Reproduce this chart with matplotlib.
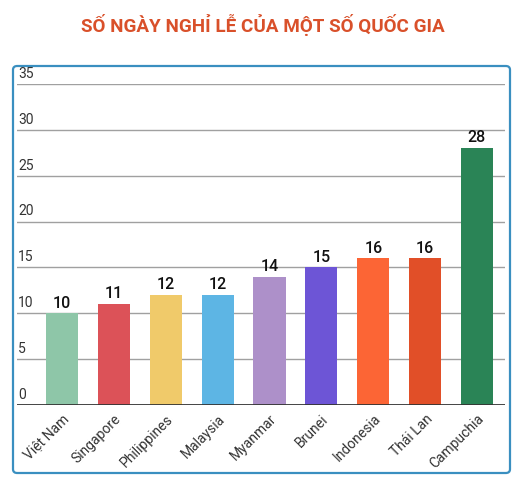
import matplotlib
matplotlib.use("Agg")
import matplotlib.pyplot as plt
from matplotlib.patches import FancyBboxPatch

plt.rcParams['font.family'] = ['Roboto', 'DejaVu Sans']

# du lieu
countries = ['Việt Nam', 'Singapore', 'Philippines', 'Malaysia', 'Myanmar',
             'Brunei', 'Indonesia', 'Thái Lan', 'Campuchia']
holidays = [10, 11, 12, 12, 14, 15, 16, 16, 28]
bar_colors = ['#8ec6a8', '#dc5258', '#f0ca6a', '#5db5e4', '#ad90c9',
              '#6d55d6', '#fc6535', '#e14f28', '#2a8456']
y_ticks = [0, 5, 10, 15, 20, 25, 30, 35]

W, H = 525, 483
fig = plt.figure(figsize=(W / 100, H / 100), dpi=100)

# khung bo tron
box = FancyBboxPatch((13 / W, 1 - 473 / H), (510 - 13) / W, (473 - 66) / H,
                     boxstyle="round,pad=0,rounding_size=0.008",
                     transform=fig.transFigure, facecolor='white',
                     edgecolor='#3a8fc0', linewidth=1.6, zorder=-1)
fig.patches.append(box)

fig.text(0.5, 1 - 25 / H, 'SỐ NGÀY NGHỈ LỄ CỦA MỘT SỐ QUỐC GIA',
         ha='center', va='center', fontsize=13.6, fontweight='bold', color='#d9502a')

ax = fig.add_axes([17 / W, 1 - 405 / H, (505 - 17) / W, (405 - 84) / H])
ax.patch.set_alpha(0)
x = list(range(len(countries)))
bars = ax.bar(x, holidays, width=0.62, color=bar_colors, zorder=2)

ax.set_ylim(0, 35)
ax.set_xlim(-0.87, 8.54)
ax.set_yticks(y_ticks)
ax.set_yticklabels([])
ax.tick_params(axis='y', length=0)
for v in y_ticks:
    if v > 0:
        ax.axhline(v, color='#a0a0a0', linewidth=1, zorder=1)
    ax.text(0.002, v + 0.35, str(v), transform=ax.get_yaxis_transform(),
            ha='left', va='bottom', fontsize=10, color='#333333')
ax.axhline(0, color='#333333', linewidth=2, zorder=3)

for b, v in zip(bars, holidays):
    ax.text(b.get_x() + b.get_width() / 2, v + 0.3, str(v),
            ha='center', va='bottom', fontsize=11.5, fontweight='medium',
            color='#111111')

ax.set_xticks(x)
ax.set_xticklabels(countries, rotation=45, ha='right', rotation_mode='anchor',
                   fontsize=10, color='#333333')
ax.tick_params(axis='x', length=0, pad=5)
for s in ax.spines.values():
    s.set_visible(False)

fig.savefig('out.png', dpi=100)
